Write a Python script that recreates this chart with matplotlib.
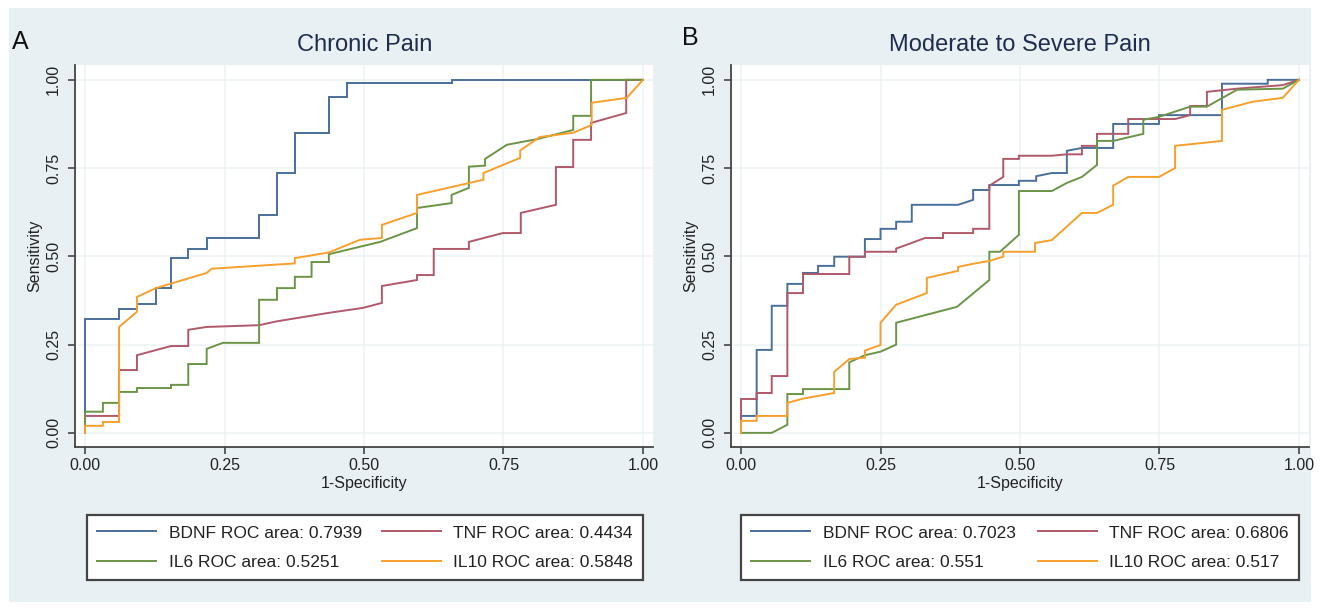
import matplotlib
matplotlib.use("Agg")
import matplotlib.pyplot as plt
from matplotlib.patches import Rectangle
from matplotlib.lines import Line2D

# ---------------- data (vertices of ROC curves) ----------------
titles = ["Chronic Pain", "Moderate to Severe Pain"]
panel_letters = ["A", "B"]
ticks = [0.0, 0.25, 0.5, 0.75, 1.0]
tick_labels = ["0.00", "0.25", "0.50", "0.75", "1.00"]
series_names = ["BDNF", "TNF", "IL6", "IL10"]
areas_a = ["0.7939", "0.4434", "0.5251", "0.5848"]
areas_b = ["0.7023", "0.6806", "0.551", "0.517"]

a_bdnf_x = [0, 0, 0.061, 0.061, 0.093, 0.093, 0.127, 0.127, 0.154, 0.154, 0.185, 0.185, 0.218, 0.218,
            0.312, 0.312, 0.344, 0.344, 0.376, 0.376, 0.437, 0.437, 0.47, 0.47, 0.657, 0.657, 1.0]
a_bdnf_y = [0, 0.323, 0.323, 0.351, 0.351, 0.365, 0.365, 0.41, 0.41, 0.495, 0.495, 0.52, 0.52, 0.553,
            0.553, 0.617, 0.617, 0.736, 0.736, 0.85, 0.85, 0.952, 0.952, 0.99, 0.99, 1.0, 1.0]

a_tnf_x = [0, 0, 0.061, 0.061, 0.093, 0.093, 0.154, 0.185, 0.185, 0.218, 0.312, 0.344, 0.437, 0.498,
           0.532, 0.532, 0.595, 0.595, 0.625, 0.625, 0.688, 0.688, 0.749, 0.781, 0.781, 0.844, 0.844,
           0.875, 0.875, 0.907, 0.907, 0.97, 0.97, 1.0]
a_tnf_y = [0, 0.048, 0.048, 0.178, 0.178, 0.22, 0.246, 0.246, 0.292, 0.30, 0.305, 0.316, 0.34, 0.354,
           0.368, 0.416, 0.433, 0.447, 0.447, 0.521, 0.521, 0.541, 0.566, 0.566, 0.623, 0.646, 0.753,
           0.753, 0.83, 0.83, 0.878, 0.906, 1.0, 1.0]

a_il6_x = [0, 0, 0.032, 0.032, 0.061, 0.061, 0.093, 0.093, 0.154, 0.154, 0.185, 0.185, 0.218, 0.218,
           0.247, 0.312, 0.312, 0.344, 0.344, 0.376, 0.376, 0.406, 0.406, 0.437, 0.437, 0.529, 0.595,
           0.595, 0.657, 0.657, 0.688, 0.688, 0.717, 0.717, 0.756, 0.81, 0.875, 0.875, 0.907, 0.907, 1.0]
a_il6_y = [0, 0.06, 0.06, 0.085, 0.085, 0.116, 0.116, 0.127, 0.127, 0.136, 0.136, 0.195, 0.195, 0.238,
           0.255, 0.255, 0.377, 0.377, 0.41, 0.41, 0.442, 0.442, 0.484, 0.484, 0.506, 0.541, 0.58,
           0.637, 0.651, 0.674, 0.694, 0.754, 0.757, 0.776, 0.816, 0.832, 0.858, 0.898, 0.898, 1.0, 1.0]

a_il10_x = [0, 0, 0.032, 0.032, 0.061, 0.061, 0.093, 0.093, 0.127, 0.218, 0.227, 0.376, 0.376, 0.437,
            0.493, 0.532, 0.532, 0.595, 0.595, 0.714, 0.714, 0.78, 0.78, 0.815, 0.875, 0.908, 0.908,
            0.971, 1.0]
a_il10_y = [0, 0.02, 0.02, 0.031, 0.031, 0.30, 0.343, 0.385, 0.41, 0.453, 0.465, 0.48, 0.495, 0.511,
            0.547, 0.552, 0.589, 0.623, 0.674, 0.717, 0.736, 0.779, 0.80, 0.838, 0.85, 0.872, 0.935,
            0.949, 1.0]

b_bdnf_x = [0, 0, 0.028, 0.028, 0.055, 0.055, 0.083, 0.083, 0.111, 0.111, 0.138, 0.138, 0.167, 0.167,
            0.222, 0.222, 0.25, 0.25, 0.278, 0.278, 0.306, 0.306, 0.389, 0.416, 0.416, 0.445, 0.445,
            0.498, 0.498, 0.529, 0.529, 0.557, 0.584, 0.584, 0.611, 0.667, 0.667, 0.749, 0.749, 0.862,
            0.862, 0.944, 0.944, 1.0]
b_bdnf_y = [0, 0.048, 0.048, 0.235, 0.235, 0.36, 0.36, 0.422, 0.422, 0.453, 0.453, 0.473, 0.473, 0.499,
            0.499, 0.549, 0.549, 0.578, 0.578, 0.598, 0.598, 0.646, 0.646, 0.66, 0.688, 0.688, 0.702,
            0.702, 0.714, 0.714, 0.727, 0.736, 0.736, 0.799, 0.807, 0.807, 0.875, 0.875, 0.9, 0.9,
            0.989, 0.989, 1.0, 1.0]

b_tnf_x = [0, 0, 0.028, 0.028, 0.055, 0.055, 0.083, 0.083, 0.111, 0.111, 0.194, 0.194, 0.222, 0.222,
           0.278, 0.278, 0.33, 0.362, 0.362, 0.416, 0.416, 0.445, 0.445, 0.47, 0.47, 0.498, 0.498,
           0.557, 0.584, 0.611, 0.611, 0.638, 0.638, 0.694, 0.694, 0.778, 0.805, 0.805, 0.835, 0.835,
           0.889, 0.971, 1.0]
b_tnf_y = [0, 0.096, 0.096, 0.113, 0.113, 0.161, 0.161, 0.396, 0.396, 0.45, 0.45, 0.499, 0.499, 0.513,
           0.513, 0.522, 0.552, 0.552, 0.566, 0.566, 0.578, 0.578, 0.7, 0.725, 0.776, 0.776, 0.785,
           0.785, 0.789, 0.789, 0.813, 0.813, 0.847, 0.847, 0.889, 0.889, 0.9, 0.926, 0.926, 0.966,
           0.975, 0.985, 1.0]

b_il6_x = [0, 0.055, 0.083, 0.083, 0.111, 0.111, 0.194, 0.194, 0.222, 0.25, 0.278, 0.278, 0.387, 0.445,
           0.445, 0.464, 0.498, 0.498, 0.557, 0.584, 0.611, 0.638, 0.638, 0.667, 0.721, 0.721, 0.749,
           0.805, 0.835, 0.889, 0.971, 1.0]
b_il6_y = [0, 0, 0.023, 0.11, 0.11, 0.124, 0.124, 0.2, 0.22, 0.23, 0.25, 0.312, 0.357, 0.433,
           0.513, 0.513, 0.561, 0.685, 0.685, 0.708, 0.725, 0.759, 0.827, 0.827, 0.847, 0.887, 0.895,
           0.924, 0.924, 0.972, 0.975, 1.0]

b_il10_x = [0, 0, 0.028, 0.028, 0.083, 0.083, 0.111, 0.167, 0.167, 0.194, 0.222, 0.222, 0.25, 0.25,
            0.278, 0.333, 0.333, 0.389, 0.389, 0.416, 0.445, 0.47, 0.47, 0.527, 0.527, 0.557, 0.611,
            0.638, 0.667, 0.667, 0.694, 0.749, 0.778, 0.778, 0.862, 0.862, 0.917, 0.971, 1.0]
b_il10_y = [0, 0.034, 0.034, 0.048, 0.048, 0.085, 0.097, 0.113, 0.173, 0.209, 0.213, 0.233, 0.249, 0.312,
            0.363, 0.396, 0.439, 0.459, 0.47, 0.479, 0.487, 0.499, 0.513, 0.513, 0.538, 0.546, 0.623,
            0.623, 0.646, 0.7, 0.725, 0.725, 0.75, 0.813, 0.827, 0.915, 0.938, 0.949, 1.0]

# ---------------- styling ----------------
W, H = 1331, 608
colors = ["#4a6f9b", "#b0596a", "#6b9447", "#f5a02c"]
bg = "#e9f0f3"
grid_c = "#eef4f5"
plain = ["Liberation Sans", "DejaVu Sans"]

fig = plt.figure(figsize=(W / 100, H / 100), dpi=100, facecolor="white")
fig.patches.append(Rectangle((9 / W, 1 - 602 / H), (1311 - 9) / W, (602 - 8) / H,
                             transform=fig.transFigure, facecolor=bg, edgecolor="none", zorder=-10))

def px(x, y):
    return x / W, 1 - y / H

panels = [
    dict(left=75, data=[(a_bdnf_x, a_bdnf_y), (a_tnf_x, a_tnf_y), (a_il6_x, a_il6_y), (a_il10_x, a_il10_y)],
         areas=areas_a, letter_pos=(20, 42), title_x=365, leg=(87, 512, 643, 583)),
    dict(left=731, data=[(b_bdnf_x, b_bdnf_y), (b_tnf_x, b_tnf_y), (b_il6_x, b_il6_y), (b_il10_x, b_il10_y)],
         areas=areas_b, letter_pos=(690, 38), title_x=1020, leg=(741, 512, 1299, 583)),
]

for i, p in enumerate(panels):
    l = p["left"]
    ax = fig.add_axes([l / W, 1 - 447 / H, 578 / W, (447 - 65) / H], zorder=1)
    ax.set_facecolor("white")
    ax.set_xlim(-0.018, 1.018)
    ax.set_ylim(-0.04, 1.042)
    for (xs, ys), c in zip(p["data"], colors):
        ax.plot(xs, ys, color=c, lw=1.4, solid_joinstyle="miter")
    ax.set_xticks(ticks)
    ax.set_xticklabels(tick_labels, fontsize=11.5, family=plain, color="#222222")
    ax.set_yticks(ticks)
    ax.set_yticklabels(tick_labels, fontsize=11.5, family=plain, color="#222222",
                       rotation=90, va="center")
    ax.tick_params(axis="both", direction="out", length=5, width=1.2, color="#444444", pad=3)
    ax.tick_params(axis="y", pad=5)
    ax.grid(True, color=grid_c, lw=1.2)
    ax.set_axisbelow(True)
    for s in ["top", "right"]:
        ax.spines[s].set_visible(False)
    for s in ["left", "bottom"]:
        ax.spines[s].set_color("#444444")
        ax.spines[s].set_linewidth(1.3)
    ax.set_xlabel("1-Specificity", fontsize=11.5, family=plain, color="#222222", labelpad=2)
    ax.set_ylabel("Sensitivity", fontsize=11.5, family=plain, color="#222222", labelpad=3)

    fig.text(*px(p["title_x"], 45), titles[i], fontsize=17, family=plain, color="#1f2d4d",
             ha="center", va="center")
    fig.text(*px(*p["letter_pos"]), panel_letters[i], fontsize=18, family=plain, color="#111111",
             ha="center", va="center")

    handles = [Line2D([], [], color=c, lw=1.4) for c in colors]
    labels = [f"{n} ROC area: {a}" for n, a in zip(series_names, p["areas"])]
    order = [0, 2, 1, 3]
    x0, y0, x1, y1 = p["leg"]
    leg = fig.legend([handles[k] for k in order], [labels[k] for k in order],
                     loc="center", ncol=2, mode="expand",
                     bbox_to_anchor=(x0 / W, 1 - y1 / H, (x1 - x0) / W, (y1 - y0) / H),
                     prop=dict(family=plain, size=12.5), handlelength=3.4, handletextpad=0.7,
                     borderaxespad=0, fancybox=False, frameon=True, labelspacing=0.8,
                     borderpad=0.6, columnspacing=1.2)
    leg.get_frame().set_edgecolor("#444444")
    leg.get_frame().set_facecolor("white")
    leg.get_frame().set_alpha(1)
    leg.get_frame().set_linewidth(1.6)
    for t in leg.get_texts():
        t.set_color("#222222")

fig.savefig("out.png", dpi=100, facecolor="white")
